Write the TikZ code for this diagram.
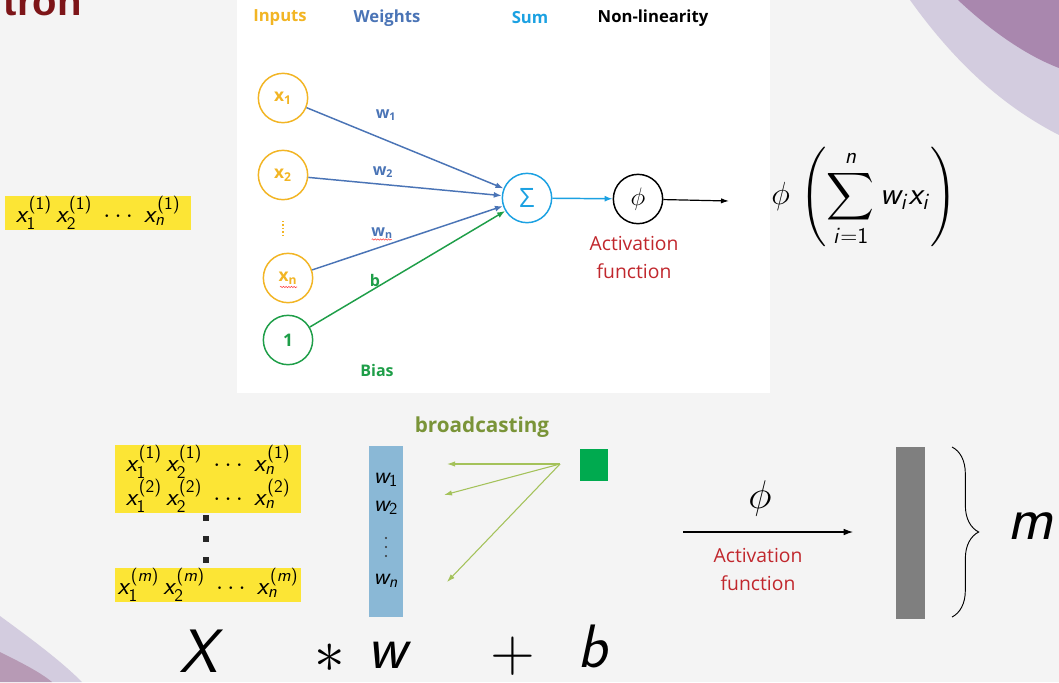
\RequirePackage{fix-cm}
\documentclass[tikz,border=0pt]{standalone}
\usepackage{amsmath}
\usepackage[no-math]{fontspec}
\usetikzlibrary{arrows.meta,decorations.pathmorphing,decorations.pathreplacing,calc}
\newfontfamily\labelfont{Open Sans}
\newfontfamily\titlefont{Liberation Sans}

% sans-serif math letters and digits (Greek and big operators stay roman)
\DeclareSymbolFont{sfletters}{OT1}{cmss}{m}{sl}
\DeclareSymbolFont{sfdigits}{OT1}{cmss}{m}{n}
\DeclareMathSymbol{b}{\mathalpha}{sfletters}{`b}
\DeclareMathSymbol{i}{\mathalpha}{sfletters}{`i}
\DeclareMathSymbol{m}{\mathalpha}{sfletters}{`m}
\DeclareMathSymbol{n}{\mathalpha}{sfletters}{`n}
\DeclareMathSymbol{w}{\mathalpha}{sfletters}{`w}
\DeclareMathSymbol{x}{\mathalpha}{sfletters}{`x}
\DeclareMathSymbol{X}{\mathalpha}{sfletters}{`X}
\DeclareMathSymbol{1}{\mathalpha}{sfdigits}{`1}
\DeclareMathSymbol{2}{\mathalpha}{sfdigits}{`2}
\DeclareMathSymbol{(}{\mathopen}{sfdigits}{`(}
\DeclareMathSymbol{)}{\mathclose}{sfdigits}{`)}
\DeclareMathSymbol{=}{\mathrel}{sfdigits}{`=}
\DeclareMathSymbol{+}{\mathbin}{sfdigits}{`+}

\definecolor{bgc}{HTML}{F4F4F4}
\definecolor{lav}{HTML}{D3CCDF}
\definecolor{plum}{HTML}{A987AE}
\definecolor{rosy}{HTML}{B79AB5}
\definecolor{titlered}{HTML}{7D1518}
\definecolor{inputc}{HTML}{F2B524}
\definecolor{weightc}{HTML}{4A74B6}
\definecolor{sumc}{HTML}{1BA1E2}
\definecolor{biasc}{HTML}{1E9E48}
\definecolor{actred}{HTML}{C1272D}
\definecolor{rowyellow}{HTML}{FCE535}
\definecolor{colblue}{HTML}{8AB8D6}
\definecolor{olive}{HTML}{7A9438}
\definecolor{bcarrow}{HTML}{A4C25A}
\definecolor{bsquare}{HTML}{00AA4F}
\definecolor{bargray}{HTML}{7F7F7F}

\tikzset{
  hdr/.style={font=\labelfont\bfseries\fontsize{12.5}{14}\selectfont, inner sep=0},
  neuron/.style={circle, draw, minimum size=37pt, line width=1.1pt, inner sep=0},
  inlabel/.style={font=\labelfont\bfseries\fontsize{13}{14}\selectfont},
  wlabel/.style={font=\labelfont\bfseries\fontsize{12}{14}\selectfont, text=weightc, inner sep=0},
  wline/.style={draw=weightc, line width=1.1pt, -{Latex[length=6pt,width=4.5pt]}},
  actlabel/.style={font=\labelfont\fontsize{14.5}{21}\selectfont, text=actred, align=center, inner sep=0},
  xrow/.style={fill=rowyellow, minimum width=139.5pt, minimum height=24pt, inner sep=0,
               font=\fontsize{19}{21}\selectfont},
  rowdot/.style={fill=black!85, minimum size=3.8pt, inner sep=0},
  coldot/.style={circle, fill=black!80, minimum size=1.6pt, inner sep=0},
  wcell/.style={font=\fontsize{18}{20}\selectfont, inner sep=0},
  bigsym/.style={font=\fontsize{46}{50}\selectfont, inner sep=0, anchor=base},
  bcline/.style={draw=bcarrow, line width=0.8pt, -{Latex[length=6pt,width=4pt]}},
  squig/.style={draw=red!75, line width=0.4pt, decorate,
                decoration={snake, segment length=2pt, amplitude=0.5pt}}
}

\begin{document}
\begin{tikzpicture}[x=0.75pt, y=-0.75pt]
\useasboundingbox (0,0) rectangle (1059,682);
\fill[bgc] (0,0) rectangle (1059,682);

% corner swooshes of the slide background
\fill[lav] (910,0) .. controls (960,70) and (1010,110) .. (1059,135) -- (1059,0) -- cycle;
\fill[plum] (958,0) .. controls (990,30) and (1025,55) .. (1059,68) -- (1059,0) -- cycle;
\fill[lav] (0,616) .. controls (30,638) and (60,660) .. (82,682) -- (0,682) -- cycle;
\fill[rosy] (0,652) .. controls (20,662) and (40,672) .. (52,682) -- (0,682) -- cycle;

% slide title, running off the left edge
\node[anchor=base east, font=\titlefont\bfseries\fontsize{30}{30}\selectfont,
      text=titlered, inner sep=0] (title) at (82,15) {tron};

% ---------- perceptron panel ----------
\fill[white] (237,0) rectangle (770,393);

\node[hdr, text=inputc]  (hin)  at (280,18) {Inputs};
\node[hdr, text=weightc] (hw)   at (387,18) {Weights};
\node[hdr, text=sumc]    (hsum) at (530,18) {Sum};
\node[hdr, text=black]   (hnl)  at (653,18) {Non-linearity};

\node[neuron, draw=inputc, text=inputc, inlabel] (x1) at (283,98)  {x\textsubscript{1}};
\node[neuron, draw=inputc, text=inputc, inlabel] (x2) at (283,175) {x\textsubscript{2}};
\node[neuron, draw=inputc, text=inputc, inlabel] (xn) at (288,278) {x\textsubscript{n}};
\node[neuron, draw=biasc, text=biasc, inlabel]   (one) at (288,340) {1};
\coordinate (vd1) at (283,221);
\coordinate (vd2) at (283,238);
\draw[inputc, line width=1.1pt, dash pattern=on 1pt off 1.6pt] (vd1) -- (vd2);

\node[neuron, draw=sumc, text=sumc, font=\labelfont\fontsize{20}{22}\selectfont] (sum) at (527,198) {Σ};
\node[neuron, draw=black, font=\fontsize{19}{20}\selectfont] (act) at (638,199) {$\phi$};
\coordinate (out) at (729,201);

\draw[wline] (x1) -- (sum);
\draw[wline] (x2) -- (sum);
\draw[wline] (xn) -- (sum);
\draw[draw=biasc, line width=1.1pt, -{Latex[length=6pt,width=4.5pt]}] (one) -- (sum);
\draw[draw=sumc, line width=1.1pt, -{Latex[length=6pt,width=4.5pt]}] (sum) -- (act);
\draw[line width=0.9pt, -{Latex[length=6pt,width=4pt]}] (act) -- (out);

\node[wlabel] (lw1) at (386,115) {w\textsubscript{1}};
\node[wlabel] (lw2) at (383,172) {w\textsubscript{2}};
\node[wlabel] (lwn) at (382,233) {w\textsubscript{n}};
\node[wlabel, text=biasc] (lb) at (375,280) {b};
\node[wlabel, text=biasc] (lbias) at (377,370) {Bias};
\draw[squig] ([xshift=0.5pt,yshift=-0.5pt]lwn.south west) -- ([xshift=-1pt,yshift=-0.5pt]lwn.south east);
\draw[squig] ($(xn)+(-8,9)$) -- ($(xn)+(9,9)$);

\node[actlabel] (actname) at (634,257) {Activation\\function};

% closed form of the neuron output
\node[font=\fontsize{24}{28}\selectfont, inner sep=0] (formula) at (864,197)
  {$\displaystyle \phi\,\left(\sum_{i=1}^{n} w_i x_i\right)$};

% one sample as a row vector
\node[xrow] (row0) at (98,213) {$x_1^{(1)}\,x_2^{(1)}\;\cdots\;x_n^{(1)}$};

% ---------- batched form ----------
\node[xrow] (row1) at (208,462) {$x_1^{(1)}\,x_2^{(1)}\;\cdots\;x_n^{(1)}$};
\node[xrow] (row2) at (208,496) {$x_1^{(2)}\,x_2^{(2)}\;\cdots\;x_n^{(2)}$};
\node[xrow] (rowm) at (208,585) {$x_1^{(m)}\,x_2^{(m)}\;\cdots\;x_n^{(m)}$};
\node[rowdot] (rd1) at (206,518) {};
\node[rowdot] (rd2) at (206,539) {};
\node[rowdot] (rd3) at (206,560) {};

\node[fill=colblue, minimum width=25.5pt, minimum height=128.25pt, inner sep=0] (wcol) at (386,531.5) {};
\node[wcell] (cw1) at (386,480) {$w_1$};
\node[wcell] (cw2) at (386,508) {$w_2$};
\node[coldot] (cd1) at (386,538) {};
\node[coldot] (cd2) at (386,547) {};
\node[coldot] (cd3) at (386,556) {};
\node[wcell] (cwn) at (386,581) {$w_n$};

\node[font=\labelfont\bfseries\fontsize{15.5}{18}\selectfont, text=olive, inner sep=0] (bcast) at (482,427) {broadcasting};
\node[fill=bsquare, minimum width=21pt, minimum height=24pt, inner sep=0] (bsq) at (594,465) {};
\coordinate (bsrc) at (560,464);
\coordinate (bt1) at (447,464);
\coordinate (bt2) at (444,495);
\coordinate (bt3) at (447,582);
\draw[bcline] (bsrc) -- (bt1);
\draw[bcline] (bsrc) -- (bt2);
\draw[bcline] (bsrc) -- (bt3);

\node[bigsym] (symX)    at (203,672) {$X$};
\node[bigsym] (symast)  at (330,672) {$\ast$};
\node[bigsym] (symw)    at (390,668) {$w$};
\node[bigsym] (symplus) at (513,671) {$+$};
\node[bigsym] (symb)    at (593,667) {$b$};

% activation applied to the batch
\node[font=\fontsize{30}{32}\selectfont, inner sep=0] (phib) at (760,498) {$\phi$};
\coordinate (aa) at (683,532);
\coordinate (ab) at (853,532);
\draw[line width=0.8pt, -{Latex[length=7pt,width=5pt]}] (aa) -- (ab);
\node[actlabel] (actname2) at (758,569) {Activation\\function};

\node[fill=bargray, minimum width=21.75pt, minimum height=129pt, inner sep=0] (mbar) at (910.5,532.5) {};
\coordinate (brtop) at (952,447);
\coordinate (brbot) at (952,617);
\draw[line width=0.7pt, decorate, decoration={brace, amplitude=20pt}] (brtop) -- (brbot);
\node[font=\fontsize{46}{50}\selectfont, inner sep=0] (msym) at (1031,526) {$m$};
\end{tikzpicture}
\end{document}
